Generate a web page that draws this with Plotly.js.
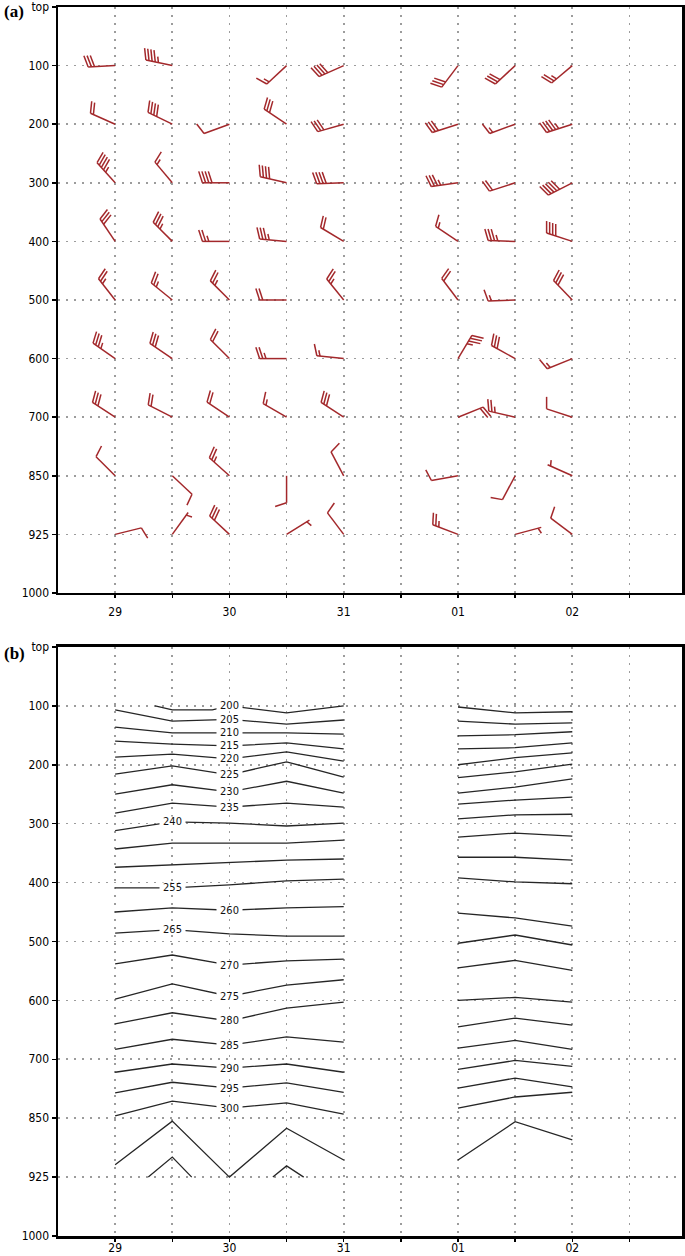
<!DOCTYPE html>
<html>
<head>
<meta charset="utf-8">
<script src="https://cdn.plot.ly/plotly-3.0.1.min.js"></script>
<style>html,body{margin:0;padding:0;background:#fff}</style>
</head>
<body>
<div id="chart" style="width:685px;height:1256px"></div>
<script>
// vertical levels, evenly spaced on the axis (index 0 = top)
const levelLabels = ['top', '100', '200', '300', '400', '500', '600', '700', '850', '925', '1000'];
// x in days from the 29th; labels only on whole days
const dayTicks = [0, 0.5, 1, 1.5, 2, 2.5, 3, 3.5, 4, 4.5];
const dayText = ['29', '', '30', '', '31', '', '01', '', '02', ''];

// (a) wind barbs: one column per station time, one row per level
const barbTimes = [0, 0.5, 1, 1.5, 2, 3, 3.5, 4];
const barbLevels = [1, 2, 3, 4, 5, 6, 7, 8, 9];   // 100 ... 925
const dir100 = [267, 282, null, 227, 246, 217, 227, 230];
const spd100 = [30, 45, null, 15, 40, 30, 30, 25];
const dir200 = [294, 296, 250, 304, 254, 252, 250, 252];
const spd200 = [20, 40, 10, 30, 30, 30, 15, 45];
const dir300 = [318, 320, 270, 283, 268, 262, 252, 243];
const spd300 = [45, 15, 40, 40, 40, 35, 20, 50];
const dir400 = [326, 315, 270, 275, 301, 304, 272, 288];
const spd400 = [30, 35, 25, 35, 20, 15, 35, 40];
const dir500 = [322, 309, 315, 270, 321, 323, 268, 316];
const spd500 = [25, 25, 25, 20, 25, 20, 15, 30];
const dir600 = [305, 304, 315, 270, 276, 31, 299, 248];
const spd600 = [35, 30, 20, 25, 15, 35, 30, 15];
const dir700 = [303, 297, 304, 300, 303, 68, 283, 288];
const spd700 = [30, 20, 20, 15, 30, 20, 25, 10];
const dir850 = [315, 133, 312, 180, 332, 260, 208, 294];
const spd850 = [10, 10, 25, 10, 10, 10, 10, 5];
const dir925 = [76, 36, 313, 58, 323, 291, 75, 307];
const spd925 = [10, 5, 30, 5, 10, 25, 5, 10];
const windDir = [dir100, dir200, dir300, dir400, dir500, dir600, dir700, dir850, dir925];
const windSpd = [spd100, spd200, spd300, spd400, spd500, spd600, spd700, spd850, spd925];

// (b) isotherms (K): level position at each time, two data blocks
const isoTemps = [205, 210, 215, 220, 225, 230, 235, 240, 245, 250, 255, 260, 265, 270, 275, 280, 285, 290, 295, 300, 305];
const timesA = [0, 0.5, 1, 1.5, 2];
const isoLevelsA = [
  [1.07, 1.26, 1.23, 1.31, 1.24],
  [1.36, 1.46, 1.46, 1.46, 1.48],
  [1.60, 1.65, 1.68, 1.63, 1.73],
  [1.87, 1.82, 1.90, 1.78, 1.94],
  [2.16, 2.02, 2.17, 1.95, 2.21],
  [2.50, 2.34, 2.46, 2.28, 2.48],
  [2.82, 2.65, 2.72, 2.65, 2.72],
  [3.12, 2.97, 2.99, 3.04, 2.99],
  [3.43, 3.33, 3.33, 3.33, 3.28],
  [3.74, 3.70, 3.65, 3.62, 3.60],
  [4.09, 4.09, 4.04, 3.97, 3.94],
  [4.50, 4.43, 4.47, 4.43, 4.41],
  [4.86, 4.80, 4.87, 4.91, 4.91],
  [5.38, 5.23, 5.40, 5.33, 5.30],
  [5.98, 5.72, 5.93, 5.74, 5.65],
  [6.40, 6.21, 6.35, 6.13, 6.03],
  [6.83, 6.66, 6.76, 6.62, 6.71],
  [7.22, 7.08, 7.15, 7.08, 7.22],
  [7.57, 7.39, 7.49, 7.40, 7.56],
  [7.96, 7.71, 7.83, 7.74, 7.93],
  [8.79, 8.05, 9.00, 8.17, 8.71]
];
const timesB = [3, 3.5, 4];
const isoLevelsB = [
  [1.26, 1.31, 1.29],
  [1.51, 1.49, 1.44],
  [1.73, 1.71, 1.63],
  [2.00, 1.88, 1.80],
  [2.22, 2.12, 1.99],
  [2.48, 2.38, 2.24],
  [2.67, 2.60, 2.55],
  [2.92, 2.85, 2.84],
  [3.23, 3.16, 3.21],
  [3.57, 3.57, 3.62],
  [3.92, 3.99, 4.02],
  [4.52, 4.60, 4.74],
  [5.03, 4.89, 5.06],
  [5.45, 5.32, 5.49],
  [6.00, 5.95, 6.03],
  [6.45, 6.30, 6.42],
  [6.81, 6.68, 6.83],
  [7.17, 7.02, 7.12],
  [7.49, 7.32, 7.47],
  [7.83, 7.64, 7.56],
  [8.71, 8.06, 8.37]
];
// 200 K meets the 100 hPa edge; 310 K closes on the 925 hPa edge
const iso200TimesA = [0.35, 0.5, 0.85, 1, 1.5, 2];
const iso200LevelsA = [1.0, 1.07, 1.07, 1.0, 1.12, 1.0];
const iso200LevelsB = [1.02, 1.12, 1.10];
const iso310Times = [[0.29, 0.5, 0.67], [1.38, 1.5, 1.65]];
const iso310Levels = [[9, 8.66, 9], [9, 8.81, 9]];
// contour labels: which isotherms are labelled, and at what time
const labelAt30 = [200, 205, 210, 215, 220, 225, 230, 235, 260, 270, 275, 280, 285, 290, 295, 300];
const labelAt295 = [240, 255, 265];

// ---- figure geometry ----
const W = 685, H = 1256;
const M = {l: 58, r: 3, t: 7, b: 20};
const xRange = [-0.5, 4.96];
const domA = [0.5232, 1], domB = [0, 0.4793];
const plotW = W - M.l - M.r, plotH = H - M.t - M.b;
const pxPerDay = plotW / (xRange[1] - xRange[0]);
const pxPerLevA = plotH * (domA[1] - domA[0]) / 10;

const barbColor = '#a3282b';
const staffLen = 27, featherLen = 12, featherGap = 3.2;

function addBarb(xs, ys, t, lev, dir, spd) {
  const a = dir * Math.PI / 180;
  const ux = Math.sin(a), uy = Math.cos(a);            // east, north
  const th = 72 * Math.PI / 180;                        // feather angle from staff
  const fx = ux * Math.cos(th) + uy * Math.sin(th);
  const fy = -ux * Math.sin(th) + uy * Math.cos(th);
  const X = px => t + px / pxPerDay;
  const Y = py => lev - py / pxPerLevA;                 // axis is reversed
  xs.push(X(0), X(staffLen * ux), null);
  ys.push(Y(0), Y(staffLen * uy), null);
  const full = Math.floor(spd / 10);
  const half = spd % 10 >= 5;
  let pos = staffLen;
  for (let i = 0; i < full; i++) {
    xs.push(X(pos * ux), X(pos * ux + featherLen * fx), null);
    ys.push(Y(pos * uy), Y(pos * uy + featherLen * fy), null);
    pos -= featherGap;
  }
  if (half) {
    if (full === 0) pos -= featherGap;
    xs.push(X(pos * ux), X(pos * ux + featherLen * 0.5 * fx), null);
    ys.push(Y(pos * uy), Y(pos * uy + featherLen * 0.5 * fy), null);
  }
}

const bx = [], by = [];
barbLevels.forEach((lev, r) => {
  barbTimes.forEach((t, c) => {
    if (windDir[r][c] == null) return;
    addBarb(bx, by, t, lev, windDir[r][c], windSpd[r][c]);
  });
});

const traces = [{
  x: bx, y: by, xaxis: 'x', yaxis: 'y', mode: 'lines', hoverinfo: 'skip',
  line: {color: barbColor, width: 1.5}
}];

const isoLine = {color: '#262626', width: 1.3};
function isoTrace(x, y) {
  return {x: x, y: y, xaxis: 'x2', yaxis: 'y2', mode: 'lines', hoverinfo: 'skip', line: isoLine};
}
traces.push(isoTrace(iso200TimesA, iso200LevelsA));
traces.push(isoTrace(timesB, iso200LevelsB));
isoTemps.forEach((T, i) => {
  traces.push(isoTrace(timesA, isoLevelsA[i]));
  traces.push(isoTrace(timesB, isoLevelsB[i]));
});
iso310Times.forEach((tt, i) => traces.push(isoTrace(tt, iso310Levels[i])));

function levelAt(T, t) {
  let xs, ys;
  if (T === 200) { xs = iso200TimesA; ys = iso200LevelsA; }
  else { xs = timesA; ys = isoLevelsA[isoTemps.indexOf(T)]; }
  for (let i = 0; i < xs.length - 1; i++) {
    if (t >= xs[i] && t <= xs[i + 1]) {
      const f = (t - xs[i]) / (xs[i + 1] - xs[i]);
      return ys[i] + f * (ys[i + 1] - ys[i]);
    }
  }
  return ys[0];
}

const narrow = 'Liberation Sans Narrow, DejaVu Sans Condensed, Arial Narrow, sans-serif';
const tickFont = {family: narrow, size: 12, color: '#000'};
const labelFont = {family: narrow, size: 11, color: '#111'};
const labelAnns = [];
labelAt30.forEach(T => labelAnns.push({x: 1, y: levelAt(T, 1), text: String(T)}));
labelAt295.forEach(T => labelAnns.push({x: 0.5, y: levelAt(T, 0.5), text: String(T)}));
labelAnns.forEach(a => Object.assign(a, {
  xref: 'x2', yref: 'y2', showarrow: false, bgcolor: '#fff', borderpad: 0,
  width: 25, height: 9, valign: 'middle',
  font: labelFont, xanchor: 'center', yanchor: 'middle'
}));

const panelFont = {family: 'Liberation Serif, DejaVu Serif, serif', size: 17, color: '#000'};
labelAnns.push({xref: 'paper', yref: 'paper', x: (2 - M.l) / plotW, y: 1 - (12 - M.t) / plotH,
  xanchor: 'left', yanchor: 'middle', text: '<b>(a)</b>', showarrow: false, font: panelFont});
labelAnns.push({xref: 'paper', yref: 'paper', x: (2 - M.l) / plotW, y: 1 - (653 - M.t) / plotH,
  xanchor: 'left', yanchor: 'middle', text: '<b>(b)</b>', showarrow: false, font: panelFont});

const gridStyle = {showgrid: true, gridcolor: '#9c9c9c', gridwidth: 1.6, griddash: '1.6px,6.4px'};
function xAxis(anchor, standoff) {
  return Object.assign({
    anchor: anchor, range: xRange, tickmode: 'array', tickvals: dayTicks, ticktext: dayText,
    ticks: 'outside', ticklen: 3, tickwidth: 1.5, tickcolor: '#000', tickfont: tickFont,
    ticklabeloverflow: 'allow', ticklabelstandoff: standoff,
    showline: true, mirror: true, linecolor: '#000', linewidth: 2.5, zeroline: false
  }, gridStyle);
}
function yAxis(anchor, dom) {
  return Object.assign({
    anchor: anchor, domain: dom, range: [10, 0], tickmode: 'array',
    tickvals: levelLabels.map((_, i) => i), ticktext: levelLabels,
    ticks: 'outside', ticklen: 4, tickwidth: 1.5, tickcolor: '#000', tickfont: tickFont,
    ticklabeloverflow: 'allow',
    showline: true, mirror: true, linecolor: '#000', linewidth: 2.5, zeroline: false
  }, gridStyle);
}

const layout = {
  width: W, height: H, margin: M, showlegend: false,
  paper_bgcolor: '#fff', plot_bgcolor: '#fff',
  xaxis: xAxis('y', 3), yaxis: yAxis('x', domA),
  xaxis2: xAxis('y2', -4), yaxis2: yAxis('x2', domB),
  annotations: labelAnns
};

Plotly.newPlot('chart', traces, layout, {staticPlot: true, displayModeBar: false});
</script>
</body>
</html>
